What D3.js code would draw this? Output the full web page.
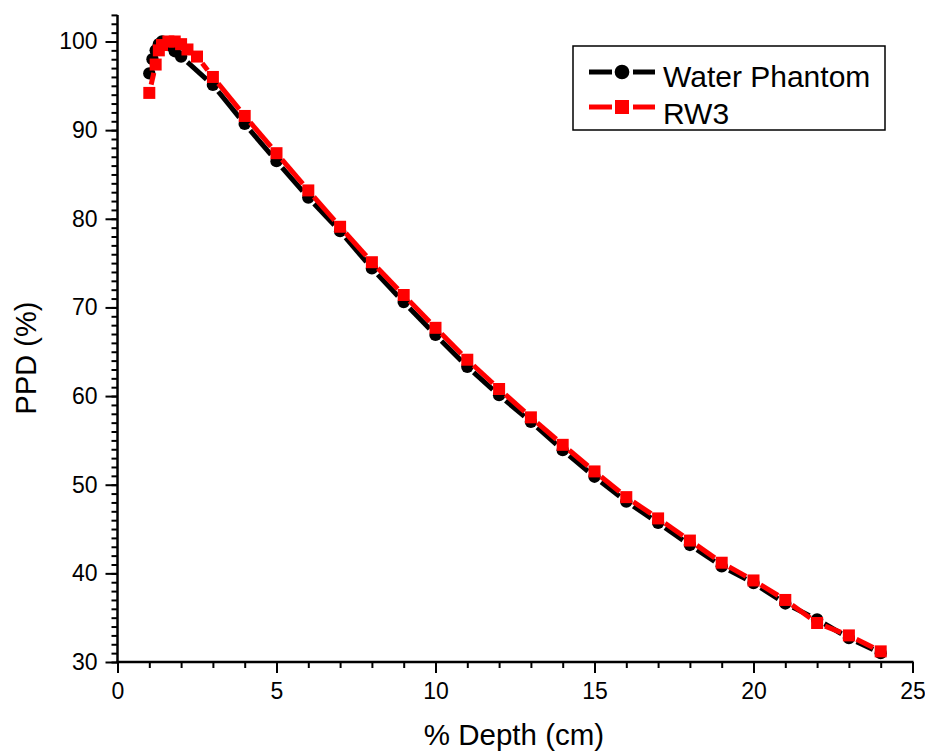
<!DOCTYPE html>
<html>
<head>
<meta charset="utf-8">
<script src="https://cdn.jsdelivr.net/npm/d3@7"></script>
<style>
    body { margin: 0; background: #fff; }
    svg { display: block; font-family: Arial, "Liberation Sans", sans-serif; }
</style>
</head>
<body>
<svg id="chart" width="925" height="752"></svg>
<script>
// depth (cm) and PDD (%)
const waterDepth = [1.0, 1.1, 1.2, 1.3, 1.4, 1.5, 1.6, 1.8, 2.0,
    3, 4, 5, 6, 7, 8, 9, 10, 11, 12, 13, 14, 15, 16, 17, 18, 19, 20, 21, 22, 23, 24];
const waterPdd = [96.4, 98.0, 99.0, 99.7, 100.0, 99.9, 99.6, 98.9, 98.3,
    95.1, 90.7, 86.5, 82.4, 78.6, 74.4, 70.6, 66.9, 63.3, 60.1, 57.1, 53.9, 50.9, 48.1, 45.7, 43.2, 40.8, 38.9, 36.6, 34.8, 32.7, 31.0];

const rw3Depth = [1.0, 1.2, 1.3, 1.4, 1.6, 1.8, 2.0, 2.2, 2.5,
    3, 4, 5, 6, 7, 8, 9, 10, 11, 12, 13, 14, 15, 16, 17, 18, 19, 20, 21, 22, 23, 24];
const rw3Pdd = [94.2, 97.4, 99.0, 99.6, 100.0, 100.0, 99.7, 99.1, 98.3,
    96.0, 91.6, 87.4, 83.2, 79.1, 75.1, 71.4, 67.7, 64.1, 60.8, 57.6, 54.5, 51.5, 48.6, 46.2, 43.7, 41.2, 39.2, 37.0, 34.4, 33.0, 31.2];

const seriesNames = ["Water Phantom", "RW3"];
const seriesColors = ["#000", "#ff0000"];
const xMajorTicks = [0, 5, 10, 15, 20, 25];
const yMajorTicks = [30, 40, 50, 60, 70, 80, 90, 100];

const svg = d3.select("#chart");
const x = d3.scaleLinear().domain([0, 25]).range([117.5, 912.5]);
const y = d3.scaleLinear().domain([30, 103]).range([662, 14.9]);

// axes: minor ticks first, then majors with labels
const xMinor = d3.axisBottom(x).tickValues(d3.range(0, 26, 1)).tickSize(6).tickFormat("");
const xMajor = d3.axisBottom(x).tickValues(xMajorTicks).tickSize(11).tickPadding(10).tickFormat(d3.format("d"));
const yMinor = d3.axisLeft(y).tickValues(d3.range(30, 104, 1)).tickSize(6).tickFormat("");
const yMajor = d3.axisLeft(y).tickValues(yMajorTicks).tickSize(12).tickPadding(8).tickFormat(d3.format("d"));

function styleAxis(g) {
    g.select(".domain").remove();
    g.selectAll("line").attr("stroke", "#000").attr("stroke-width", 2);
    g.selectAll("text").attr("fill", "#000").style("font-size", "23px");
}
svg.append("g").attr("transform", "translate(0,662)").call(xMinor).call(styleAxis);
svg.append("g").attr("transform", "translate(0,662)").call(xMajor).call(styleAxis);
svg.append("g").attr("transform", "translate(117.5,0)").call(yMinor).call(styleAxis);
svg.append("g").attr("transform", "translate(117.5,0)").call(yMajor).call(styleAxis);

// axis lines
svg.append("line").attr("x1", x(0) - 1).attr("x2", x(25) + 1).attr("y1", y(30)).attr("y2", y(30))
    .attr("stroke", "#000").attr("stroke-width", 2.5);
svg.append("line").attr("x1", x(0)).attr("x2", x(0)).attr("y1", y(30) + 1).attr("y2", y(103))
    .attr("stroke", "#000").attr("stroke-width", 2.5);

// axis titles
svg.append("text").attr("x", (x(0) + x(25)) / 2 - 1).attr("y", 745).attr("text-anchor", "middle")
    .style("font-size", "29.5px").text("% Depth (cm)");
svg.append("text").attr("transform", "translate(36,358) rotate(-90)").attr("text-anchor", "middle")
    .style("font-size", "29px").text("PPD (%)");

// line segments stop short of the symbols, like the original plot
function drawSeries(depth, pdd, color, symbol) {
    const pts = depth.map((d, i) => [x(d), y(pdd[i])]);
    const cut = 8.5;
    const g = svg.append("g");
    d3.pairs(pts).forEach(([a, b]) => {
        const dx = b[0] - a[0], dy = b[1] - a[1];
        const len = Math.hypot(dx, dy);
        if (len <= cut * 2) return;
        const ux = dx / len, uy = dy / len;
        g.append("line")
            .attr("x1", a[0] + ux * cut).attr("y1", a[1] + uy * cut)
            .attr("x2", b[0] - ux * cut).attr("y2", b[1] - uy * cut)
            .attr("stroke", color).attr("stroke-width", 5);
    });
    g.selectAll("path.sym").data(pts).join("path")
        .attr("class", "sym")
        .attr("transform", d => `translate(${d[0]},${d[1]})`)
        .attr("d", d3.symbol(symbol, symbol === d3.symbolSquare ? 144 : 120)())
        .attr("fill", color);
}
drawSeries(waterDepth, waterPdd, seriesColors[0], d3.symbolCircle);
drawSeries(rw3Depth, rw3Pdd, seriesColors[1], d3.symbolSquare);

// legend
const legend = svg.append("g");
legend.append("rect").attr("x", 573).attr("y", 46).attr("width", 312).attr("height", 84)
    .attr("fill", "#fff").attr("stroke", "#000").attr("stroke-width", 1.5);
const symbols = [d3.symbolCircle, d3.symbolSquare];
seriesNames.forEach((name, i) => {
    const cy = 72 + i * 35;
    legend.append("line").attr("x1", 589).attr("x2", 612).attr("y1", cy).attr("y2", cy)
        .attr("stroke", seriesColors[i]).attr("stroke-width", 5);
    legend.append("line").attr("x1", 633).attr("x2", 655).attr("y1", cy).attr("y2", cy)
        .attr("stroke", seriesColors[i]).attr("stroke-width", 5);
    legend.append("path").attr("transform", `translate(622,${cy})`)
        .attr("d", d3.symbol(symbols[i], i ? 196 : 170)()).attr("fill", seriesColors[i]);
    legend.append("text").attr("x", 663).attr("y", cy + 6 + i * 2).attr("dy", "0.3em")
        .style("font-size", "30px").text(name);
});
</script>
</body>
</html>
